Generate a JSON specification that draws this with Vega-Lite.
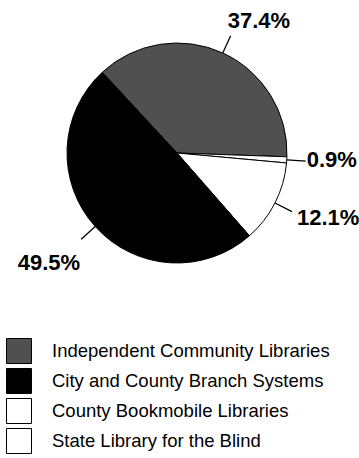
{
  "$schema": "https://vega.github.io/schema/vega-lite/v6.json",
  "width": 354,
  "height": 306,
  "padding": 0,
  "autosize": {"type": "pad"},
  "background": "white",
  "config": {"view": {"stroke": null}, "font": "Liberation Sans"},
  "data": {"values": [
    {"category": "Independent Community Libraries", "pct": 37.4, "label": "37.4%", "order": 1},
    {"category": "State Library for the Blind", "pct": 0.9, "label": "0.9%", "order": 2},
    {"category": "County Bookmobile Libraries", "pct": 12.1, "label": "12.1%", "order": 3},
    {"category": "City and County Branch Systems", "pct": 49.5, "label": "49.5%", "order": 4}
  ]},
  "transform": [
    {"stack": "pct", "groupby": [], "sort": [{"field": "order", "order": "ascending"}], "as": ["s0", "s1"]},
    {"calculate": "(datum.s0 + datum.s1) / 2", "as": "mid"}
  ],
  "layer": [
    {
      "mark": {"type": "arc", "outerRadius": 110, "stroke": "black", "strokeWidth": 1},
      "encoding": {
        "theta": {"field": "s0", "type": "quantitative", "stack": null, "scale": {"domain": [0, 99.9], "range": [-0.747, 5.536]}},
        "theta2": {"field": "s1"},
        "color": {
          "field": "category", "type": "nominal",
          "scale": {
            "domain": ["Independent Community Libraries", "City and County Branch Systems", "County Bookmobile Libraries", "State Library for the Blind"],
            "range": ["#505050", "#000000", "#ffffff", "#ffffff"]
          },
          "legend": {
            "orient": "none", "legendX": 6, "legendY": 338, "title": null, "padding": 0,
            "symbolType": "square", "symbolSize": 625, "symbolStrokeColor": "black", "symbolStrokeWidth": 1,
            "symbolOpacity": 1, "labelFontSize": 18.5, "labelFont": "Liberation Sans", "labelColor": "black",
            "labelOffset": 20, "rowPadding": 0, "labelLimit": 400
          }
        }
      }
    },
    {
      "mark": {"type": "arc", "innerRadius": 110, "outerRadius": 129, "stroke": "black", "strokeWidth": 1.3, "fill": null},
      "encoding": {
        "theta": {"field": "mid", "type": "quantitative", "stack": null},
        "theta2": {"field": "mid"}
      }
    },
    {
      "transform": [{"filter": "datum.order == 1"}],
      "mark": {"type": "text", "radius": 129, "align": "left", "baseline": "alphabetic", "dx": -3, "dy": -8, "fontSize": 22, "fontWeight": "bold", "font": "Liberation Sans", "color": "black"},
      "encoding": {"theta": {"field": "mid", "type": "quantitative", "stack": null}, "text": {"field": "label"}}
    },
    {
      "transform": [{"filter": "datum.order == 2"}],
      "mark": {"type": "text", "radius": 129, "align": "left", "baseline": "alphabetic", "dx": 1, "dy": 6, "fontSize": 22, "fontWeight": "bold", "font": "Liberation Sans", "color": "black"},
      "encoding": {"theta": {"field": "mid", "type": "quantitative", "stack": null}, "text": {"field": "label"}}
    },
    {
      "transform": [{"filter": "datum.order == 3"}],
      "mark": {"type": "text", "radius": 129, "align": "left", "baseline": "alphabetic", "dx": 5, "dy": 13, "fontSize": 22, "fontWeight": "bold", "font": "Liberation Sans", "color": "black"},
      "encoding": {"theta": {"field": "mid", "type": "quantitative", "stack": null}, "text": {"field": "label"}}
    },
    {
      "transform": [{"filter": "datum.order == 4"}],
      "mark": {"type": "text", "radius": 129, "align": "right", "baseline": "alphabetic", "dx": -1, "dy": 31, "fontSize": 22, "fontWeight": "bold", "font": "Liberation Sans", "color": "black"},
      "encoding": {"theta": {"field": "mid", "type": "quantitative", "stack": null}, "text": {"field": "label"}}
    }
  ]
}
